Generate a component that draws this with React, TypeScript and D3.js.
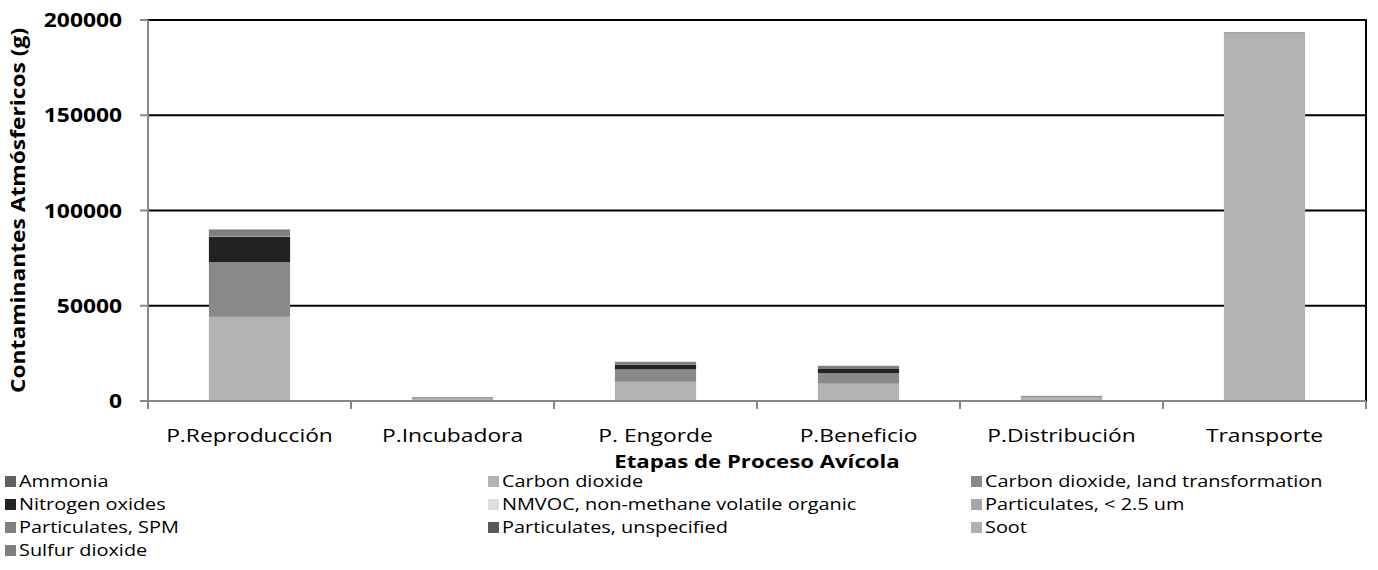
import React from "react";
import * as d3 from "d3";

const categories = ["P.Reproducción", "P.Incubadora", "P. Engorde", "P.Beneficio", "P.Distribución", "Transporte"];
const seriesNames = [
  "Ammonia",
  "Carbon dioxide",
  "Carbon dioxide, land transformation",
  "Nitrogen oxides",
  "NMVOC, non-methane volatile organic",
  "Particulates, < 2.5 um",
  "Particulates, SPM",
  "Particulates, unspecified",
  "Soot",
  "Sulfur dioxide",
];
const seriesColors = ["#606060", "#b3b3b3", "#898989", "#222222", "#dddddd", "#a6a6a6", "#808080", "#5a5a5a", "#b0b0b0", "#7f7f7f"];
const ammonia = [200, 10, 100, 100, 10, 20];
const carbonDioxide = [44000, 1400, 10000, 9000, 1900, 192800];
const co2Land = [28700, 100, 6500, 5500, 150, 0];
const nitrogenOxides = [13300, 150, 2500, 2500, 200, 100];
const nmvoc = [50, 5, 30, 30, 5, 30];
const pm25 = [50, 5, 30, 30, 5, 20];
const spm = [50, 5, 30, 30, 5, 20];
const pmUnspecified = [100, 10, 60, 60, 10, 30];
const soot = [20, 2, 10, 10, 2, 10];
const sulfurDioxide = [3600, 350, 1300, 1200, 400, 500];
const seriesValues = [ammonia, carbonDioxide, co2Land, nitrogenOxides, nmvoc, pm25, spm, pmUnspecified, soot, sulfurDioxide];
const yTicks = [0, 50000, 100000, 150000, 200000];

const W = 1378, H = 570;
const L = 148, R = 1366, T = 20, B = 401;
const FONT = "'Open Sans', sans-serif";

function SText({ x, y, anchor = "start", size, bold = false, sx = 1.2, children }: any) {
  return (
    <text
      transform={`translate(${x},${y}) scale(${sx},1)`}
      textAnchor={anchor}
      fontSize={size}
      fontWeight={bold ? "bold" : "normal"}
      fontFamily={FONT}
      fill="#000"
    >
      {children}
    </text>
  );
}

export default function App() {
  const x = d3.scaleBand().domain(categories).range([L, R]).paddingInner(0).paddingOuter(0);
  const y = d3.scaleLinear().domain([0, 200000]).range([B, T]);
  const rows = categories.map((c, i) => {
    const o: any = { cat: c };
    seriesNames.forEach((s, j) => (o[s] = seriesValues[j][i]));
    return o;
  });
  const stack = d3.stack().keys(seriesNames)(rows);
  const bw = x.bandwidth() * 0.4;
  const legendCols = [19, 502, 985];
  const legendRows = [481, 504, 527, 550];

  return (
    <svg width={W} height={H} style={{ position: "absolute", left: 0, top: 0, display: "block" }}>
      <rect x={0} y={0} width={W} height={H} fill="#fff" />
      {yTicks.filter((t) => t > 0).map((t) => (
        <line key={t} x1={L} x2={R} y1={y(t)} y2={y(t)} stroke="#000" strokeWidth={2} />
      ))}
      <line x1={R} x2={R} y1={T - 1} y2={B} stroke="#000" strokeWidth={2} />
      {stack.map((layer, j) => (
        <g key={j} fill={seriesColors[j]}>
          {layer.map((d: any, i: number) => {
            const y0 = y(d[0]), y1 = y(d[1]);
            if (y0 - y1 <= 0) return null;
            return (
              <rect key={i} x={(x(categories[i]) as number) + (x.bandwidth() - bw) / 2} width={bw} y={y1} height={y0 - y1} />
            );
          })}
        </g>
      ))}
      {/* axes */}
      <line x1={L} x2={L} y1={T} y2={B + 8} stroke="#878787" strokeWidth={2} />
      {yTicks.map((t) => (
        <line key={t} x1={L - 8} x2={L} y1={y(t)} y2={y(t)} stroke="#878787" strokeWidth={2} />
      ))}
      <line x1={L - 8} x2={R} y1={B} y2={B} stroke="#878787" strokeWidth={2} />
      {d3.range(categories.length + 1).map((i) => (
        <line key={i} x1={L + i * x.bandwidth()} x2={L + i * x.bandwidth()} y1={B} y2={B + 8} stroke="#878787" strokeWidth={2} />
      ))}
      {yTicks.map((t) => (
        <SText key={t} x={122} y={y(t) + 7} anchor="end" size={19} bold>
          {t}
        </SText>
      ))}
      {categories.map((c) => (
        <SText key={c} x={(x(c) as number) + x.bandwidth() / 2} y={442} anchor="middle" size={19}>
          {c}
        </SText>
      ))}
      <SText x={757} y={468} anchor="middle" size={18.5} bold>
        Etapas de Proceso Avícola
      </SText>
      <text
        transform={`translate(25,${(T + B) / 2}) rotate(-90) scale(1.2,1)`}
        textAnchor="middle"
        fontSize={19}
        fontWeight="bold"
        fontFamily={FONT}
      >
        Contaminantes Atmósfericos (g)
      </text>
      {seriesNames.map((s, j) => {
        const cx = legendCols[j % 3];
        const cy = legendRows[Math.floor(j / 3)];
        return (
          <g key={s}>
            <rect x={cx - 14} y={cy - 5} width={11} height={11} fill={seriesColors[j]} />
            <SText x={cx} y={cy + 6} size={17} sx={1.17}>
              {s}
            </SText>
          </g>
        );
      })}
    </svg>
  );
}
